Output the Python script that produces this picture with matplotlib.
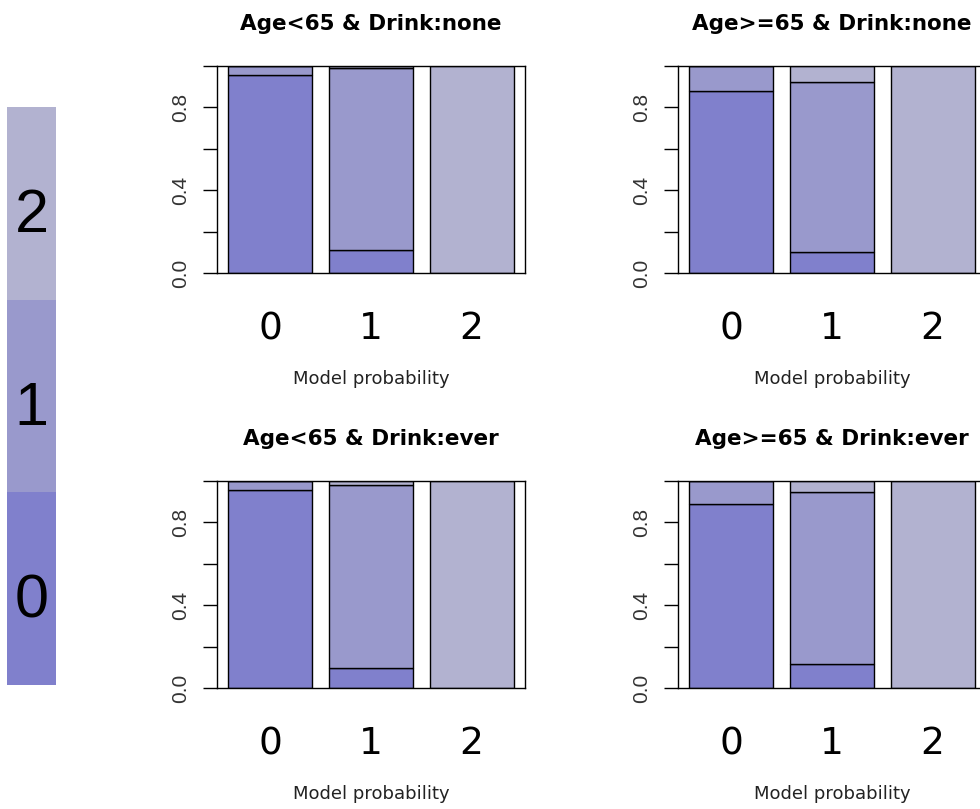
import matplotlib
matplotlib.use("Agg")
import matplotlib.pyplot as plt
import matplotlib.transforms as mtransforms
import numpy as np

# panel titles, in order: top-left, top-right, bottom-left, bottom-right
titles = ["Age<65 & Drink:none", "Age>=65 & Drink:none",
          "Age<65 & Drink:ever", "Age>=65 & Drink:ever"]
groups = ["0", "1", "2"]

# share of model class 0 / 1 / 2 within each observed group (bars 0, 1, 2)
class0 = [[0.956, 0.110, 0.0],
          [0.880, 0.103, 0.0],
          [0.958, 0.095, 0.0],
          [0.887, 0.116, 0.0]]
class1 = [[0.044, 0.882, 0.0],
          [0.120, 0.821, 0.0],
          [0.042, 0.886, 0.0],
          [0.113, 0.829, 0.0]]
class2 = [[0.0, 0.008, 1.0],
          [0.0, 0.076, 1.0],
          [0.0, 0.019, 1.0],
          [0.0, 0.055, 1.0]]

colors = ["#8080cc", "#9999cc", "#b2b2d0"]

W, H = 980, 809
fig = plt.figure(figsize=(W / 100, H / 100), dpi=100)


def px_axes(x0, y0, x1, y1):
    # pixel box (top-left origin) -> figure fraction
    return fig.add_axes([x0 / W, 1 - y1 / H, (x1 - x0) / W, (y1 - y0) / H])


boxes = [(217, 66, 525, 273), (678, 66, 986, 273),
         (217, 481, 525, 688), (678, 481, 986, 688)]

centers = np.array([0.7, 1.9, 3.1])

for i, (x0, y0, x1, y1) in enumerate(boxes):
    ax = px_axes(x0, y0, x1, y1)
    bottom = np.zeros(3)
    for vals, col in zip([class0[i], class1[i], class2[i]], colors):
        vals = np.array(vals)
        ax.bar(centers, vals, width=1.0, bottom=bottom, color=col,
               edgecolor="black", linewidth=1.0)
        bottom = bottom + vals
    ax.set_xlim(0.064, 3.736)
    ax.set_ylim(0, 1)
    for s in ax.spines.values():
        s.set_linewidth(1.0)
    ax.set_xticks([])
    ax.set_yticks([0, 0.2, 0.4, 0.6, 0.8, 1.0])
    ax.set_yticklabels(["0.0", "", "0.4", "", "0.8", ""], rotation=90,
                       va="center", color="#333333", fontsize=15,
                       family="Liberation Sans")
    ax.tick_params(axis="y", length=10, width=1.0, pad=9)

    ax.text(0.5, 1.175, titles[i], transform=ax.transAxes, ha="center",
            va="baseline", fontsize=15.5, fontweight="bold",
            family="DejaVu Sans")
    trans = mtransforms.blended_transform_factory(ax.transData, ax.transAxes)
    for c, g in zip(centers, groups):
        ax.text(c, -0.319, g, transform=trans, ha="center", va="baseline",
                fontsize=27, family="DejaVu Sans")
    ax.text(0.5, -0.536, "Model probability", transform=ax.transAxes,
            ha="center", va="baseline", fontsize=13, color="#222222",
            family="DejaVu Sans")

# colour key on the left
lg = px_axes(7, 107, 56, 685)
for k, col in enumerate(colors):
    lg.bar(0, 1, bottom=k, width=1.0, color=col, edgecolor="none")
    lg.text(0, k + 0.35, groups[k], ha="center", va="baseline",
            fontsize=44, family="Liberation Sans")
lg.set_xlim(-0.5, 0.5)
lg.set_ylim(0, 3)
lg.axis("off")

fig.savefig("out.png", dpi=100)
